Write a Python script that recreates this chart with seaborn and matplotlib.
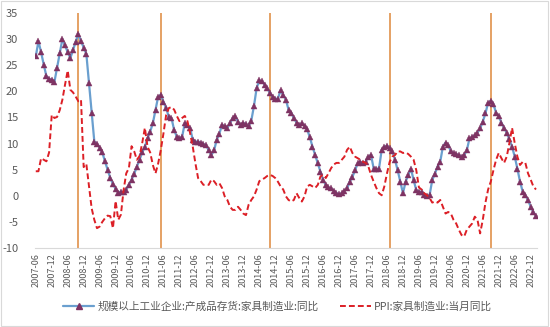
import matplotlib
matplotlib.use("Agg")
import matplotlib.pyplot as plt
from matplotlib.lines import Line2D
from matplotlib.patches import Rectangle
import seaborn as sns
import pandas as pd
import numpy as np

# ---- data ----
months = pd.date_range("2007-06-01", "2023-02-01", freq="MS").strftime("%Y-%m").tolist()

inventory_yoy = [
    26.7, 29.6, 27.5, 25.1, 22.9, 22.4, 22.2, 21.8, 24.5, 27.3,
    30.0, 28.8, 27.5, 26.4, 27.9, 29.5, 31.0, 29.6, 28.4, 27.2,
    21.6, 15.8, 10.4, 10.0, 9.2, 8.3, 6.6, 5.0, 3.4, 2.3,
    1.3, 0.6, 0.8, 0.8, 1.2, 2.1, 3.1, 4.2, 5.6, 6.9,
    8.3, 9.4, 11.0, 12.3, 13.9, 16.5, 19.0, 19.3, 18.0, 16.8,
    15.1, 14.9, 12.6, 11.3, 11.0, 11.3, 13.9, 13.6, 13.0, 10.7,
    10.4, 10.4, 10.2, 9.9, 9.7, 8.7, 7.8, 8.7, 10.7, 11.9,
    13.6, 13.3, 13.0, 13.9, 14.9, 15.2, 14.2, 13.6, 13.9,
    13.8, 13.3, 14.4, 17.2, 20.6, 22.1, 21.9, 21.3, 20.6, 19.7, 18.9,
    18.6, 18.6, 20.2, 19.3, 18.4, 16.5, 15.9, 14.9,
    14.0, 13.6, 13.9, 13.4, 12.7, 11.2, 9.4, 7.8, 6.2, 4.6,
    3.0, 2.1, 1.6, 1.4, 1.0, 0.5, 0.3, 0.5, 1.0, 1.4,
    2.7, 3.6, 4.9, 6.2, 6.5, 6.3, 6.5, 7.5, 7.8, 5.2,
    5.2, 5.2, 8.8, 9.4, 9.6, 9.1, 8.5, 6.9, 4.9, 2.7,
    0.5, 2.7, 4.0, 5.2, 3.0, 1.1, 0.8, 0.8, 0.1, 0.0,
    0.1, 3.0, 4.2, 5.6, 6.5, 9.4, 10.2, 9.7, 8.5, 8.2,
    8.0, 7.8, 7.5, 7.8, 8.7, 11.0, 11.3, 11.6, 12.1, 12.9,
    14.2, 15.8, 17.8, 18.2, 17.5, 15.9, 15.2, 14.0, 13.0, 12.1,
    10.8, 9.4, 7.5, 5.2, 2.7, 0.8, 0.1, -0.8, -2.1, -3.1, -3.9,
]

ppi_yoy = [
    4.7, 4.7, 7.2, 6.9, 6.6, 8.3, 15.5, 14.9, 15.1, 16.4,
    18.4, 21.3, 24.0, 20.3, 19.8, 19.0, 18.1, 18.4, 5.5, 6.1,
    1.8, -2.4, -4.6, -6.2, -5.9, -5.0, -4.3, -3.8, -3.9, -6.2,
    -1.0, -4.6, -3.6, 1.1, 4.3, 5.3, 9.5, 8.5, 6.9, 7.6,
    10.1, 13.0, 9.4, 8.3, 5.9, 4.3, 6.2, 8.8, 12.0, 15.5,
    16.8, 17.0, 16.5, 15.3, 14.3, 14.9, 15.3, 14.3, 12.0, 9.4,
    6.2, 3.4, 2.8, 2.1, 2.1, 2.1, 3.1, 2.8, 2.1, 2.4,
    1.5, -0.1, -0.8, -2.1, -2.7, -2.7, -2.1, -2.7, -3.4, -3.7,
    -1.7, -0.8, -0.1, 1.2, 2.8, 3.1, 3.4, 3.8, 4.0, 3.8,
    3.4, 2.7, 1.8, 1.2, -0.1, -0.8, -1.1, -0.8, 0.5,
    -0.4, -1.1, -0.1, 1.8, 2.1, 1.8, 1.5, 2.1, 3.7, 4.0,
    3.4, 4.3, 5.3, 6.0, 6.3, 6.3, 6.9, 7.5, 8.8, 9.4,
    8.2, 7.5, 7.2, 6.9, 6.5, 6.3, 5.6, 4.0, 2.7, 1.5,
    0.5, 0.1, 1.8, 4.3, 6.5, 7.5, 7.8, 8.5, 8.5, 8.2,
    8.3, 8.0, 7.5, 6.9, 4.9, 1.6, 1.2, 0.5, 0.1,
    -0.4, -1.3, -1.1, -1.3, -0.8, -2.1, -3.4, -3.1, -3.4, -4.6,
    -5.3, -6.5, -7.5, -7.8, -6.5, -5.9, -5.3, -4.0, -4.6, -7.2,
    -4.6, -1.3, 1.2, 2.7, 4.9, 6.9, 8.2, 7.2, 6.3, 7.5,
    10.1, 13.0, 10.1, 7.5, 5.9, 6.5, 6.3, 4.3, 3.1, 1.8,
    1.2,
]

marker_months = ["2008-10", "2011-05", "2014-10", "2018-07", "2021-09"]
tick_labels = [m for m in months if m.endswith("-06") or m.endswith("-12")]
tick_labels = [t for t in tick_labels if t <= "2022-12"]

name_inv = "规模以上工业企业:产成品存货:家具制造业:同比"
name_ppi = "PPI:家具制造业:当月同比"

df = pd.DataFrame({"month": months, "idx": np.arange(len(months)),
                   "inv": inventory_yoy, "ppi": ppi_yoy})

# ---- style ----
sns.set_theme(style="white")
plt.rcParams["font.family"] = ["Noto Sans CJK SC", "DejaVu Sans"]

fig = plt.figure(figsize=(5.5, 3.27), dpi=100)
ax = fig.add_axes([0.0636, 0.2416, 0.9124, 0.7184])

blue = "#6A9FCF"
tri = "#7E3363"
red = "#DC1F26"
orange = "#E0914A"

sns.lineplot(data=df, x="idx", y="inv", ax=ax, color=blue, lw=1.6,
             marker="^", markersize=5, markerfacecolor=tri,
             markeredgecolor=tri, markeredgewidth=0.3, zorder=3)
sns.lineplot(data=df, x="idx", y="ppi", ax=ax, color=red, lw=1.4,
             linestyle=(0, (3, 1.6)), zorder=4)

for m in marker_months:
    ax.axvline(months.index(m), color=orange, lw=1.2, zorder=2)

ax.set_xlim(-0.3, 188.3)
ax.set_ylim(-10, 35)
ax.set_yticks(range(-10, 36, 5))
ax.set_yticklabels([str(v) for v in range(-10, 36, 5)], fontsize=8, color="#595959")
ax.set_xticks([months.index(t) for t in tick_labels])
ax.set_xticklabels(tick_labels, rotation=90, fontsize=6.6, color="#595959")
ax.tick_params(axis="y", length=0, pad=12)
ax.tick_params(axis="x", length=0, pad=4)
ax.set_xlabel("")
ax.set_ylabel("")
for s in ["left", "right", "top"]:
    ax.spines[s].set_visible(False)
ax.spines["bottom"].set_color("#D9D9D9")
ax.spines["bottom"].set_linewidth(0.8)
ax.grid(False)

handles = [
    Line2D([0], [0], color=blue, lw=1.6, marker="^", markersize=5,
           markerfacecolor=tri, markeredgecolor=tri),
    Line2D([0], [0], color=red, lw=1.4, linestyle=(0, (3, 1.6))),
]
fig.legend(handles, [name_inv, name_ppi], loc="center", bbox_to_anchor=(0.505, 0.062),
           ncol=2, frameon=False, fontsize=7.7, labelcolor="#595959",
           handlelength=2.9, columnspacing=2.0, handletextpad=0.3)

fig.patches.append(Rectangle((0.002, 0.003), 0.995, 0.994, transform=fig.transFigure,
                             fill=False, edgecolor="#D9D9D9", lw=0.8))

fig.savefig("out.png", dpi=100)
